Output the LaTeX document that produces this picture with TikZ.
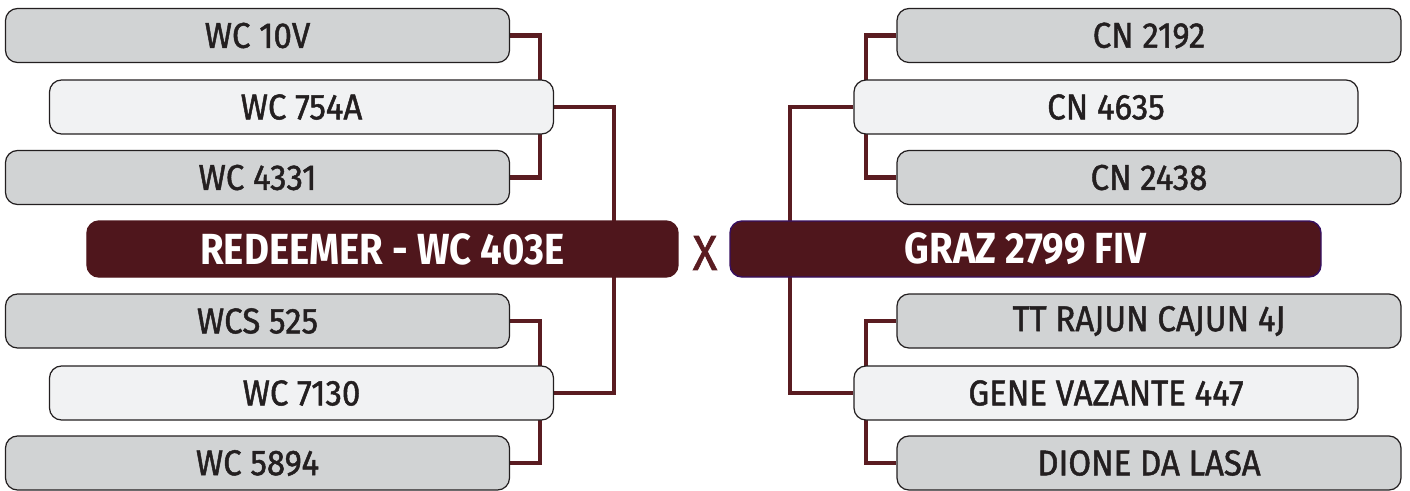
\documentclass[tikz,border=0pt]{standalone}
\usepackage{fontspec}
\setmainfont{Fira Sans}[FakeStretch=0.88, BoldFont={* Bold}]
\newfontfamily\medio{Fira Sans}[FakeStretch=0.92, FakeBold=1.3]
\usepackage{tikz}
\usetikzlibrary{positioning,calc,backgrounds}
\definecolor{vinho}{HTML}{4F161C}
\definecolor{linha}{HTML}{5A1C21}
\definecolor{cinza}{HTML}{D1D3D4}
\definecolor{claro}{HTML}{F1F2F3}
\definecolor{texto}{HTML}{231F20}
\tikzstyle{touro} = [rectangle, 
rounded corners=0.12cm, minimum width=5.04cm, minimum height=0.54cm, text centered, draw=texto, line width=0.35pt, fill=cinza, text=texto, font=\medio\fontsize{10.2}{11}\selectfont]
\tikzstyle{pai} = [touro, fill=claro]
\tikzstyle{chefe} = [rectangle, 
rounded corners=0.12cm, minimum width=5.91cm, minimum height=0.56cm, text centered, draw=vinho, fill=vinho, text=white, font=\fontsize{12.4}{13}\selectfont\bfseries]
\tikzstyle{liga} = [draw=linha, line width=1.2pt]

\begin{document}
\begin{tikzpicture}
							\useasboundingbox (0,0) rectangle (14.1,-4.9);
							\node (wc10v) at (2.575,-0.355) [touro] {WC 10V};
							\node (wc754a) at (3.015,-1.07) [pai] {WC 754A};
							\node (wc4331) at (2.575,-1.775) [touro] {WC 4331};
							\node (redeemer) at (3.825,-2.49) [chefe] {REDEEMER - WC 403E};
							\node (wcs525) at (2.575,-3.21) [touro] {WCS 525};
							\node (wc7130) at (3.015,-3.93) [pai] {WC 7130};
							\node (wc5894) at (2.575,-4.63) [touro] {WC 5894};
							\node (cn2192) at (11.49,-0.355) [touro] {CN 2192};
							\node (cn4635) at (11.06,-1.07) [pai] {CN 4635};
							\node (cn2438) at (11.49,-1.775) [touro] {CN 2438};
							\node (graz) at (10.255,-2.49) [chefe, draw=blue!30!vinho] {GRAZ 2799 FIV};
							\node (tt) at (11.49,-3.21) [touro] {TT RAJUN CAJUN 4J};
							\node (gene) at (11.06,-3.93) [pai] {GENE VAZANTE 447};
							\node (dione) at (11.49,-4.63) [touro] {DIONE DA LASA};
							\node (x) at (7.05,-2.53) [text=linha, font=\medio\fontsize{14}{15}\selectfont] {X};
							\begin{scope}[on background layer]
							\draw[liga] (wc10v.east) -- ++(0.3,0) |- (wc4331.east);
							\draw[liga] (wcs525.east) -- ++(0.3,0) |- (wc5894.east);
							\draw[liga] (wc754a.east) -- ++(0.6,0) |- (wc7130.east);
							\draw[liga] (cn2192.west) -- ++(-0.3,0) |- (cn2438.west);
							\draw[liga] (tt.west) -- ++(-0.3,0) |- (dione.west);
							\draw[liga] (cn4635.west) -- ++(-0.63,0) |- (gene.west);
							\end{scope}
						\end{tikzpicture}
\end{document}
